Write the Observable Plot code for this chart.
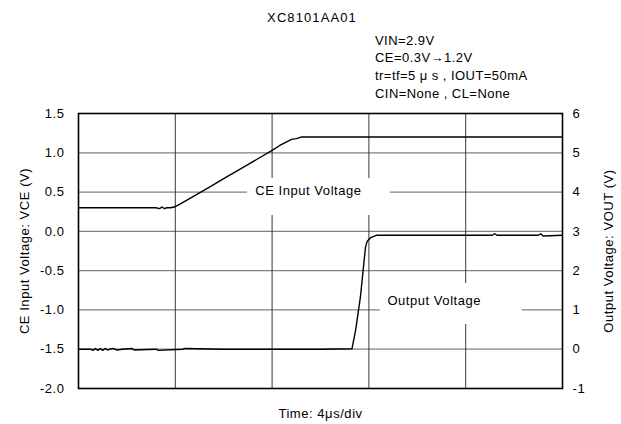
<!DOCTYPE html>
<html>
<head>
<meta charset="utf-8">
<script src="https://cdn.jsdelivr.net/npm/d3@7"></script>
<script src="https://cdn.jsdelivr.net/npm/@observablehq/plot@0.6"></script>
<style>
  html, body { margin: 0; padding: 0; background: #fff; }
  body { width: 621px; height: 424px; overflow: hidden; font-family: "Liberation Sans", Arial, sans-serif; color: #000; }
  #head { position: relative; height: 105px; }
  #head div { position: absolute; white-space: nowrap; font-size: 13px; line-height: 1; letter-spacing: 0.45px; }
  #title { left: 0; width: 624px; text-align: center; top: 11px; letter-spacing: 1.1px !important; }
  .ann { left: 375px; }
  #chart svg text { letter-spacing: 0.55px; }
</style>
</head>
<body>
<div id="head">
  <div id="title">XC8101AA01</div>
  <div class="ann" style="top:34px">VIN=2.9V</div>
  <div class="ann" style="top:51px">CE=0.3V→1.2V</div>
  <div class="ann" style="top:69px">tr=tf=5 μ s , IOUT=50mA</div>
  <div class="ann" style="top:87px">CIN=None , CL=None</div>
</div>
<div id="chart"></div>
<script>
// ---- data (time in µs) ----
const ceTime = [0, 2.0, 3.2, 3.35, 3.45, 3.55, 3.65, 3.8, 3.95, 4.1, 4.5, 5.0, 5.5, 6.0, 6.5, 7.0, 7.5, 8.0, 8.3, 8.6, 8.8, 9.0, 9.2, 12, 16, 20];
const ceVolt = [0.30, 0.30, 0.30, 0.29, 0.31, 0.29, 0.30, 0.30, 0.31, 0.33, 0.40, 0.49, 0.58, 0.67, 0.76, 0.85, 0.94, 1.03, 1.09, 1.14, 1.17, 1.18, 1.20, 1.20, 1.20, 1.20];

const outTime = [0, 0.5, 0.6, 0.7, 0.8, 0.9, 1.0, 1.1, 1.2, 1.4, 1.6, 1.8, 2.2, 2.3, 3.2, 3.3, 4.3, 4.4, 6, 8, 10, 11.3, 11.45, 11.65, 11.76, 11.86, 11.93, 12.07, 12.31, 14, 17.1, 17.2, 17.3, 19.0, 19.1, 19.2, 20];
const outVolt = [0, 0, -0.03, 0.02, -0.03, 0.02, -0.03, 0.02, -0.02, 0.02, -0.02, 0, 0.02, -0.02, 0, -0.03, 0, 0.02, 0, 0, 0, 0.01, 0.48, 1.33, 2.0, 2.6, 2.75, 2.84, 2.9, 2.9, 2.9, 2.94, 2.9, 2.9, 2.94, 2.88, 2.9];

const leftTicks = [-2.0, -1.5, -1.0, -0.5, 0.0, 0.5, 1.0, 1.5];
const rightTicks = [-1, 0, 1, 2, 3, 4, 5, 6];
const timeDivs = [4, 8, 12, 16];

const labelText = ["CE Input Voltage", "Output Voltage"];
const labelTime = [9.5, 14.7];
const labelLeftV = [0.52, -0.88];

// right axis (VOUT) onto left axis (VCE) coordinates
const toLeft = v => -2 + (v + 1) / 2;
const fromLeft = y => (y + 2) * 2 - 1;

const ce = ceTime.map((t, i) => ({t, v: ceVolt[i]}));
const out = outTime.map((t, i) => ({t, v: outVolt[i]}));
const labels = labelText.map((text, i) => ({text, t: labelTime[i], v: labelLeftV[i]}));

const chart = Plot.plot({
  width: 621,
  height: 319,
  marginTop: 8,
  marginBottom: 36,
  marginLeft: 78,
  marginRight: 59,
  x: {domain: [0, 20], axis: null},
  y: {domain: [-2, 1.5], axis: null},
  style: {fontFamily: "'Liberation Sans', Arial, sans-serif", fontSize: "13px", color: "#000", background: "#fff"},
  marks: [
    Plot.gridY(leftTicks.slice(1, -1), {stroke: "#808080", strokeOpacity: 1, strokeWidth: 1.2}),
    Plot.gridX(timeDivs, {stroke: "#222", strokeOpacity: 1, strokeWidth: 0.9}),
    Plot.rect([labels[0]], {x1: "t", x2: "t", y1: "v", y2: "v", fill: "#fff",
      insetLeft: -61, insetRight: -82, insetTop: -12, insetBottom: -25}),
    Plot.rect([labels[1]], {x1: "t", x2: "t", y1: "v", y2: "v", fill: "#fff",
      insetLeft: -54, insetRight: -88, insetTop: -17, insetBottom: -24}),
    Plot.text(labels, {x: "t", y: "v", text: "text", fontSize: 13, textAnchor: "middle", lineAnchor: "middle"}),
    Plot.line(ce, {x: "t", y: "v", stroke: "#000", strokeWidth: 1.4}),
    Plot.line(out, {x: "t", y: d => toLeft(d.v), stroke: "#000", strokeWidth: 1.4}),
    Plot.frame({stroke: "#000", strokeWidth: 1.6}),
    Plot.axisY(leftTicks, {anchor: "left", tickSize: 0, tickPadding: 14, tickFormat: d => d.toFixed(1), label: null, fontSize: 13}),
    Plot.axisY(rightTicks.map(toLeft), {anchor: "right", tickSize: 0, tickPadding: 10, tickFormat: d => String(Math.round(fromLeft(d))), label: null, fontSize: 13}),
    Plot.text(["CE Input Voltage: VCE (V)"], {frameAnchor: "left", rotate: -90, dx: -54, textAnchor: "middle", lineAnchor: "middle", fontSize: 13}),
    Plot.text(["Output Voltage: VOUT (V)"], {frameAnchor: "right", rotate: -90, dx: 46, textAnchor: "middle", lineAnchor: "middle", fontSize: 13}),
    Plot.text(["Time: 4μs/div"], {frameAnchor: "bottom", dy: 25, textAnchor: "middle", lineAnchor: "middle", fontSize: 13})
  ]
});
document.getElementById("chart").appendChild(chart);
</script>
</body>
</html>
